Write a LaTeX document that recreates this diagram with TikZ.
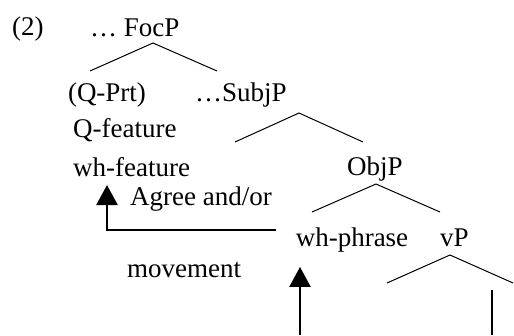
\documentclass[tikz,border=0pt]{standalone}
\usepackage{fontspec}
\setmainfont{Liberation Serif}
\usetikzlibrary{arrows.meta}
\tikzset{
    tree-label/.style = {inner sep=0pt, anchor=base west, font=\fontsize{27}{30}\selectfont},
    branch/.style = {line width=1pt},
    move-line/.style = {line width=2.6pt},
    move-arrow/.style = {move-line, -{Triangle[length=20pt, width=21pt]}},
}

\begin{document}
\begin{tikzpicture}[x=1pt, y=-1pt]
\useasboundingbox (0,0) rectangle (514,335);
% labels
\node[tree-label] (ex-num) at (12,35) {(2)};
\node[tree-label] (focp) at (90,36) {\dots{} FocP};
\node[tree-label, anchor=base] (qprt) at (107,101) {(Q-Prt)};
\node[tree-label] (subjp) at (195,101) {\dots SubjP};
\node[tree-label] (qfeat) at (73,137) {Q-feature};
\node[tree-label] (whfeat) at (73,176) {wh-feature};
\node[tree-label] (objp) at (347,175) {ObjP};
\node[tree-label] (agree) at (130,205) {Agree and/or};
\node[tree-label, anchor=base] (whphrase) at (352,246) {wh-phrase};
\node[tree-label] (vp) at (440,246) {vP};
\node[tree-label] (movement) at (127,277) {movement};
% branches
\coordinate (foc-apex) at (153,43);
\coordinate (foc-l) at (90,71);
\coordinate (foc-r) at (217,71);
\coordinate (subj-apex) at (299,113);
\coordinate (subj-l) at (235,142);
\coordinate (subj-r) at (363,142);
\coordinate (obj-apex) at (376,184);
\coordinate (obj-l) at (312,212);
\coordinate (obj-r) at (440,212);
\coordinate (vp-apex) at (450,255);
\coordinate (vp-l) at (387,283);
\coordinate (vp-r) at (513,283);
\draw[branch] (foc-l) -- (foc-apex) -- (foc-r);
\draw[branch] (subj-l) -- (subj-apex) -- (subj-r);
\draw[branch] (obj-l) -- (obj-apex) -- (obj-r);
\draw[branch] (vp-l) -- (vp-apex) -- (vp-r);
% arrows
\coordinate (agree-start) at (276,230);
\coordinate (agree-tip) at (107,185);
\draw[move-arrow] (agree-start) -| (agree-tip);
\coordinate (move-foot) at (300,335);
\draw[move-arrow, shorten >=15pt] (move-foot) -- (move-foot |- whphrase.south);
\coordinate (vp-foot) at (492,335);
\coordinate (vp-top) at (492,290);
\draw[move-line] (vp-foot) -- (vp-top);
\end{tikzpicture}
\end{document}
